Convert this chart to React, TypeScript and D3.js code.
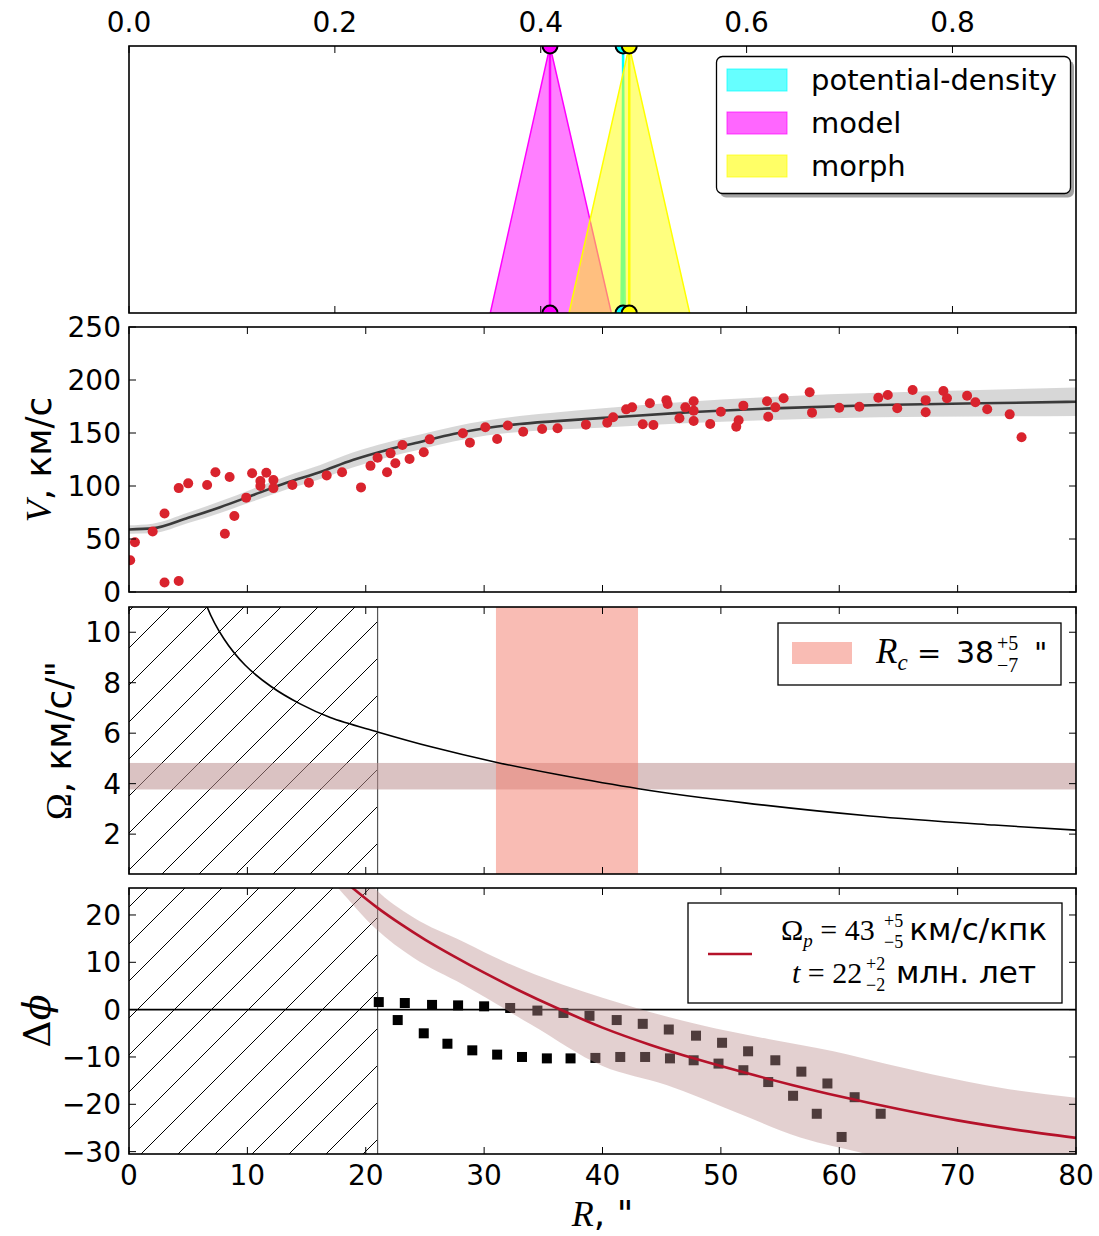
import React from "react";
import * as d3 from "d3";

// panel 1: estimates on the top axis
const methodNames = ["potential-density", "model", "morph"];
const methodColors = ["#00ffff", "#ff00ff", "#ffff00"];
const methodCenter = [0.48, 0.409, 0.486];
const methodLow = [0.478, 0.351, 0.4275];
const methodHigh = [0.482, 0.4686, 0.5447];
const fracTicks = [0, 0.2, 0.4, 0.6, 0.8];

// panel 2: rotation curve
const obsR = [0.1, 0.5, 2, 3, 3, 4.2, 4.2, 5, 6.6, 7.3, 8.1, 8.5, 8.9, 9.9, 10.4, 11.1, 11.1, 11.6, 12.2, 12.2, 13.8, 15.2, 16.7, 18, 19.6, 20.4, 21, 21.8, 22.1, 22.5, 23.1, 23.7, 24.9, 25.4, 28.2, 28.8, 30.1, 31.1, 32, 33.3, 34.9, 36.2, 38.6, 40.4, 40.9, 42, 42.5, 43.4, 44, 44.3, 45.4, 45.5, 46.5, 47, 47.7, 47.7, 47.7, 49.1, 50, 51.3, 51.5, 51.9, 53.9, 54, 54.6, 55.3, 57.5, 57.7, 60, 61.7, 63.3, 64.1, 64.9, 66.2, 67.3, 67.3, 68.8, 69.1, 70.8, 71.5, 72.5, 74.4, 75.4];
const obsV = [30, 47, 57, 74, 9, 10.4, 98, 102.5, 101, 113, 55, 108.5, 71.7, 89, 112, 104.7, 100, 112.5, 105.7, 98, 101, 103, 110, 113, 98.7, 119, 126.7, 113, 130.8, 121.4, 138.7, 125.5, 131.8, 144, 149.7, 140.9, 155.4, 144.3, 157, 151.2, 153.8, 154.4, 157.9, 159.7, 164.8, 172.3, 174.2, 158.2, 178, 157.5, 181, 177.4, 163.9, 174.2, 180, 171, 161.3, 158.5, 170, 156, 162, 175.8, 180, 165.4, 174.2, 182.7, 188.4, 169.2, 173.9, 174.8, 183.3, 185.8, 173.3, 190.6, 181, 169.5, 189.6, 182.7, 185.2, 179, 172.4, 167.6, 146];
const fitR = [0, 2, 5, 7.7, 10.5, 13.3, 16.1, 18.9, 21.8, 24.6, 27.4, 30.2, 33, 35.8, 39.8, 46.5, 55, 63.4, 71.9, 80];
const fitV = [59, 60, 70, 80, 91.5, 103, 113, 124.5, 134, 141.5, 149, 154.7, 158.5, 161, 164, 169, 173.5, 176.4, 178, 179.5];
const fitUpper = [63, 64.5, 75, 85.5, 97.5, 109.3, 119.6, 131.5, 141, 148.5, 156, 161.7, 166, 169, 173, 179, 184.5, 187.9, 190.5, 192.9];
const fitLower = [55, 55.5, 65, 74.5, 85.5, 96.7, 106.4, 117.5, 127, 134.5, 142, 147.7, 151, 153, 155, 159, 162.5, 164.9, 165.5, 166.1];
const vTicks = [0, 50, 100, 150, 200, 250];

// panel 3: angular velocity
const omegaR = [5.8, 6.6, 8, 9.8, 12, 14.5, 17, 21, 25.6, 30.9, 36.2, 43.05, 52, 62.6, 73.1, 80];
const omegaV = [12.3, 11.0, 9.75, 8.7, 7.85, 7.15, 6.62, 6.05, 5.45, 4.86, 4.36, 3.8, 3.24, 2.72, 2.36, 2.16];
const omegaPBand = [3.77, 4.82];
const corotBand = [31, 43];
const omegaTicks = [2, 4, 6, 8, 10];
const innerLimit = 21;

// panel 4: phase shift
const phiUpR = [21.1, 23.3, 25.6, 27.8, 30, 32.2, 34.5, 36.7, 38.9, 41.2, 43.4, 45.6, 47.9, 50.1, 52.3, 54.6, 56.8, 59, 61.3, 63.5];
const phiUp = [1.6, 1.4, 1.0, 0.9, 0.7, 0.35, -0.2, -0.7, -1.3, -2.2, -3.0, -4.2, -5.5, -7.0, -8.8, -10.7, -13.1, -15.6, -18.5, -22];
const phiLowR = [22.7, 24.9, 26.9, 29, 31.1, 33.2, 35.3, 37.3, 39.4, 41.5, 43.6, 45.7, 47.7, 49.8, 51.9, 54, 56.1, 58.1, 60.2];
const phiLow = [-2.2, -5.0, -7.2, -8.6, -9.5, -10, -10.3, -10.3, -10.2, -10, -10, -10.3, -10.7, -11.4, -12.8, -15.3, -18.2, -22, -26.9];
const modelR = [18.5, 21, 23, 25, 27.5, 30, 33, 36, 40, 44, 48, 52, 56, 60, 65, 70, 75, 80];
const modelPhi = [26.5, 21.5, 18.0, 14.8, 11.2, 7.8, 4.0, 0.5, -3.8, -7.4, -10.5, -13.3, -15.9, -18.3, -21.0, -23.4, -25.4, -27.1];
const bandUpR = [20.2, 20.8, 24, 28.2, 32, 36.6, 40, 44, 48.2, 54, 59.5, 64, 67.9, 73.6, 80];
const bandUp = [27, 25.5, 19.5, 14.4, 9.8, 5.3, 2.5, -0.5, -3.2, -6.2, -8.8, -11.5, -13.7, -16.5, -18.6];
const bandLowR = [17.2, 17.7, 20.8, 24, 28.2, 34, 40, 45.4, 51, 56.7, 62.3, 66, 80];
const bandLow = [27, 25.6, 17.2, 11, 5.3, -3.2, -11.9, -15.9, -21.4, -27, -30.5, -33, -38];
const phiTicks = [-30, -20, -10, 0, 10, 20];
const rTicks = [0, 10, 20, 30, 40, 50, 60, 70, 80];

const SANS = "DejaVu Sans";
const SERIF = "Liberation Serif";
const L = 129;
const R = 1076;
const P = [
  { t: 46, b: 313 },
  { t: 327, b: 592 },
  { t: 607, b: 874 },
  { t: 888, b: 1154 },
];
const BAND = "#bc8f8f";

const x = d3.scaleLinear().domain([0, 80]).range([L, R]);
const xf = d3.scaleLinear().domain([0, 0.92]).range([L, R]);
const y1 = d3.scaleLinear().domain([0, 1]).range([P[0].b, P[0].t]);
const y2 = d3.scaleLinear().domain([0, 250]).range([P[1].b, P[1].t]);
const y3 = d3.scaleLinear().domain([0.42, 11]).range([P[2].b, P[2].t]);
const y4 = d3.scaleLinear().domain([-30.5, 25.7]).range([P[3].b, P[3].t]);

const zip = (a: number[], b: number[]) => a.map((v, i) => [v, b[i]] as [number, number]);

function Frame({ t, b, xs, ys }: { t: number; b: number; xs: number[]; ys: number[] }) {
  const k = 7;
  return (
    <g stroke="#000" strokeWidth={1}>
      {xs.map((px, i) => (
        <g key={"x" + i}>
          <line x1={px} x2={px} y1={b} y2={b - k} />
          <line x1={px} x2={px} y1={t} y2={t + k} />
        </g>
      ))}
      {ys.map((py, i) => (
        <g key={"y" + i}>
          <line x1={L} x2={L + k} y1={py} y2={py} />
          <line x1={R} x2={R - k} y1={py} y2={py} />
        </g>
      ))}
      <rect x={L} y={t} width={R - L} height={b - t} fill="none" strokeWidth={1.6} />
    </g>
  );
}

function YTickLabels({ ticks, scale }: { ticks: number[]; scale: (v: number) => number }) {
  return (
    <g fontFamily={SANS} fontSize={28} textAnchor="end">
      {ticks.map((v) => (
        <text key={v} x={121} y={scale(v)} dy="0.36em">
          {v < 0 ? "\u2212" + Math.abs(v) : v}
        </text>
      ))}
    </g>
  );
}

export default function App() {
  const band2 = d3
    .area<[number, number, number]>()
    .x((d) => x(d[0]))
    .y0((d) => y2(d[1]))
    .y1((d) => y2(d[2]))
    .curve(d3.curveMonotoneX)(fitR.map((r, i) => [r, fitLower[i], fitUpper[i]]));
  const fit2 = d3
    .line<[number, number]>()
    .x((d) => x(d[0]))
    .y((d) => y2(d[1]))
    .curve(d3.curveMonotoneX)(zip(fitR, fitV));
  const omegaLine = d3
    .line<[number, number]>()
    .x((d) => x(d[0]))
    .y((d) => y3(d[1]))
    .curve(d3.curveCatmullRom)(zip(omegaR, omegaV));
  const modelLine = d3
    .line<[number, number]>()
    .x((d) => x(d[0]))
    .y((d) => y4(d[1]))
    .curve(d3.curveCatmullRom)(zip(modelR, modelPhi));
  const edgeGen = d3
    .line<[number, number]>()
    .x((d) => x(d[0]))
    .y((d) => y4(d[1]))
    .curve(d3.curveMonotoneX);
  const lowForward = edgeGen(zip(bandLowR, bandLow))!;
  const upperPath = edgeGen(zip(bandUpR, bandUp))!;

  const xsR = rTicks.map((v) => x(v));
  const xsF = fracTicks.map((v) => xf(v));

  return (
    <svg
      width={1099}
      height={1236}
      style={{ position: "absolute", left: 0, top: 0, background: "#fff" }}
    >
      <defs>
        {P.map((p, i) => (
          <clipPath id={"clip" + i} key={i}>
            <rect x={L} y={p.t} width={R - L} height={p.b - p.t} />
          </clipPath>
        ))}
        <pattern id="hatch" patternUnits="userSpaceOnUse" width={37} height={37}>
          <path d="M-4,4L4,-4M0,37L37,0M33,41L41,33" stroke="#000" strokeWidth={1} />
        </pattern>
        <clipPath id="band4clip">
          <path d={lowForward + `L${x(80)},${y4(40)}L${x(0)},${y4(40)}Z`} />
        </clipPath>
      </defs>
      <rect width={1099} height={1236} fill="#fff" />

      {/* panel 1 */}
      <g clipPath="url(#clip0)">
        {methodNames.map((m, i) => (
          <g key={m}>
            <polygon
              points={[
                [xf(methodLow[i]), y1(0)],
                [xf(methodCenter[i]), y1(1)],
                [xf(methodHigh[i]), y1(0)],
              ]
                .map((p) => p.join(","))
                .join(" ")}
              fill={methodColors[i]}
              fillOpacity={0.5}
              stroke={methodColors[i]}
              strokeWidth={1.5}
            />
            <line
              x1={xf(methodCenter[i])}
              x2={xf(methodCenter[i])}
              y1={y1(0)}
              y2={y1(1)}
              stroke={methodColors[i]}
              strokeWidth={2.5}
            />
          </g>
        ))}
        {methodNames.map((m, i) => (
          <g key={m + "c"} fill={methodColors[i]} stroke="#000" strokeWidth={2}>
            <circle cx={xf(methodCenter[i])} cy={y1(1)} r={7.5} />
            <circle cx={xf(methodCenter[i])} cy={y1(0)} r={7.5} />
          </g>
        ))}
      </g>
      <Frame t={P[0].t} b={P[0].b} xs={xsF} ys={[]} />
      <g fontFamily={SANS} fontSize={28} textAnchor="middle">
        {fracTicks.map((v) => (
          <text key={v} x={xf(v)} y={32}>
            {v.toFixed(1)}
          </text>
        ))}
      </g>
      <rect x={720} y={60.5} width={354} height={137} rx={6} fill="#666" opacity={0.6} />
      <rect x={716.5} y={56.5} width={354} height={137} rx={6} fill="#fff" stroke="#000" strokeWidth={1.3} />
      {methodNames.map((m, i) => (
        <g key={m + "l"}>
          <rect
            x={727}
            y={69 + i * 43}
            width={60}
            height={22}
            fill={methodColors[i]}
            fillOpacity={0.6}
            stroke={methodColors[i]}
            strokeOpacity={0.7}
          />
          <text x={811} y={80 + i * 43} dy="0.36em" fontFamily={SANS} fontSize={29}>
            {m}
          </text>
        </g>
      ))}

      {/* panel 2 */}
      <g clipPath="url(#clip1)">
        <path d={band2!} fill="#9a9a9a" fillOpacity={0.4} />
        <path d={fit2!} fill="none" stroke="#3a3a3a" strokeWidth={2.6} />
        {obsR.map((r, i) => (
          <circle key={i} cx={x(r)} cy={y2(obsV[i])} r={5} fill="#d9232d" />
        ))}
      </g>
      <Frame t={P[1].t} b={P[1].b} xs={xsR} ys={vTicks.map((v) => y2(v))} />
      <YTickLabels ticks={vTicks} scale={y2} />
      <text
        transform={`translate(38,${(P[1].t + P[1].b) / 2}) rotate(-90)`}
        textAnchor="middle"
        dy="0.36em"
        fontSize={36}
        fontFamily={SANS}
      >
        <tspan fontFamily={SERIF} fontStyle="italic">V</tspan>
        <tspan>, км/с</tspan>
      </text>

      {/* panel 3 */}
      <g clipPath="url(#clip2)">
        <rect x={x(0)} y={P[2].t} width={x(innerLimit) - x(0)} height={P[2].b - P[2].t} fill="url(#hatch)" />
        <line x1={x(innerLimit)} x2={x(innerLimit)} y1={P[2].t} y2={P[2].b} stroke="#555" strokeWidth={1.2} />
        <rect
          x={x(0)}
          y={y3(omegaPBand[1])}
          width={R - L}
          height={y3(omegaPBand[0]) - y3(omegaPBand[1])}
          fill={BAND}
          fillOpacity={0.55}
        />
        <rect
          x={x(corotBand[0])}
          y={P[2].t}
          width={x(corotBand[1]) - x(corotBand[0])}
          height={P[2].b - P[2].t}
          fill="#f47a6a"
          fillOpacity={0.5}
        />
        <path d={omegaLine!} fill="none" stroke="#000" strokeWidth={1.6} />
      </g>
      <Frame t={P[2].t} b={P[2].b} xs={xsR} ys={omegaTicks.map((v) => y3(v))} />
      <YTickLabels ticks={omegaTicks} scale={y3} />
      <text
        transform={`translate(58,${(P[2].t + P[2].b) / 2}) rotate(-90)`}
        textAnchor="middle"
        dy="0.36em"
        fontSize={36}
        fontFamily={SANS}
      >
        <tspan fontFamily={SERIF}>Ω</tspan>
        <tspan>, км/с/"</tspan>
      </text>
      <rect x={778} y={623} width={283} height={62} fill="#fff" stroke="#000" strokeWidth={1.3} />
      <rect x={792} y={642} width={60} height={22} fill="#f47a6a" fillOpacity={0.5} />
      <g>
        <text x={876} y={663} fontFamily={SERIF} fontStyle="italic" fontSize={35}>
          R<tspan dy={7} fontSize={23}>c</tspan>
        </text>
        <text x={917} y={663} fontFamily={SANS} fontSize={29}>=</text>
        <text x={956} y={663} fontFamily={SANS} fontSize={30}>38</text>
        <text x={997} y={650} fontFamily={SERIF} fontSize={20}>+5</text>
        <text x={997} y={672} fontFamily={SERIF} fontSize={20}>−7</text>
        <text x={1034} y={663} fontFamily={SANS} fontSize={29}>"</text>
      </g>

      {/* panel 4 */}
      <g clipPath="url(#clip3)">
        <rect x={x(0)} y={P[3].t} width={x(innerLimit) - x(0)} height={P[3].b - P[3].t} fill="url(#hatch)" />
        <line x1={x(innerLimit)} x2={x(innerLimit)} y1={P[3].t} y2={P[3].b} stroke="#555" strokeWidth={1.2} />
        <line x1={L} x2={R} y1={y4(0)} y2={y4(0)} stroke="#000" strokeWidth={1.6} />
        {phiUpR.map((r, i) => (
          <rect key={"u" + i} x={x(r) - 5} y={y4(phiUp[i]) - 5} width={10} height={10} fill="#000" />
        ))}
        {phiLowR.map((r, i) => (
          <rect key={"l" + i} x={x(r) - 5} y={y4(phiLow[i]) - 5} width={10} height={10} fill="#000" />
        ))}
        <path
          d={upperPath + `L${x(80)},${y4(-40)}L${x(10)},${y4(-40)}L${x(10)},${y4(27)}Z`}
          fill={BAND}
          fillOpacity={0.42}
          clipPath="url(#band4clip)"
        />
        <path d={modelLine!} fill="none" stroke="#b5122a" strokeWidth={2.6} />
      </g>
      <Frame t={P[3].t} b={P[3].b} xs={xsR} ys={phiTicks.map((v) => y4(v))} />
      <YTickLabels ticks={phiTicks} scale={y4} />
      <text
        transform={`translate(36,${(P[3].t + P[3].b) / 2}) rotate(-90)`}
        textAnchor="middle"
        dy="0.36em"
        fontSize={38}
        fontFamily="DejaVu Serif"
      >
        <tspan>Δ</tspan>
        <tspan fontStyle="italic">ϕ</tspan>
      </text>
      <rect x={688} y={903} width={374} height={100} fill="#fff" stroke="#000" strokeWidth={1.3} />
      <line x1={708} x2={752} y1={954} y2={954} stroke="#b5122a" strokeWidth={2.6} />
      <g>
        <text x={781} y={940} fontFamily={SERIF} fontSize={30}>
          Ω<tspan dy={7} fontSize={19} fontStyle="italic">p</tspan>
          <tspan dy={-7} fontSize={30}> = 43</tspan>
        </text>
        <text x={884} y={927} fontFamily={SERIF} fontSize={18}>+5</text>
        <text x={884} y={948} fontFamily={SERIF} fontSize={18}>−5</text>
        <text x={1047} y={940} textAnchor="end" fontFamily={SANS} fontSize={31}>км/с/кпк</text>
        <text x={792} y={983} fontFamily={SERIF} fontSize={30}>
          <tspan fontStyle="italic">t</tspan> = 22
        </text>
        <text x={866} y={970} fontFamily={SERIF} fontSize={18}>+2</text>
        <text x={866} y={991} fontFamily={SERIF} fontSize={18}>−2</text>
        <text x={1036} y={983} textAnchor="end" fontFamily={SANS} fontSize={31}>млн. лет</text>
      </g>
      <g fontFamily={SANS} fontSize={28} textAnchor="middle">
        {rTicks.map((v) => (
          <text key={v} x={x(v)} y={1185}>
            {v}
          </text>
        ))}
      </g>
      <text x={(L + R) / 2} y={1226} textAnchor="middle" fontSize={36} fontFamily={SANS}>
        <tspan fontFamily={SERIF} fontStyle="italic">R</tspan>
        <tspan>, "</tspan>
      </text>
    </svg>
  );
}
